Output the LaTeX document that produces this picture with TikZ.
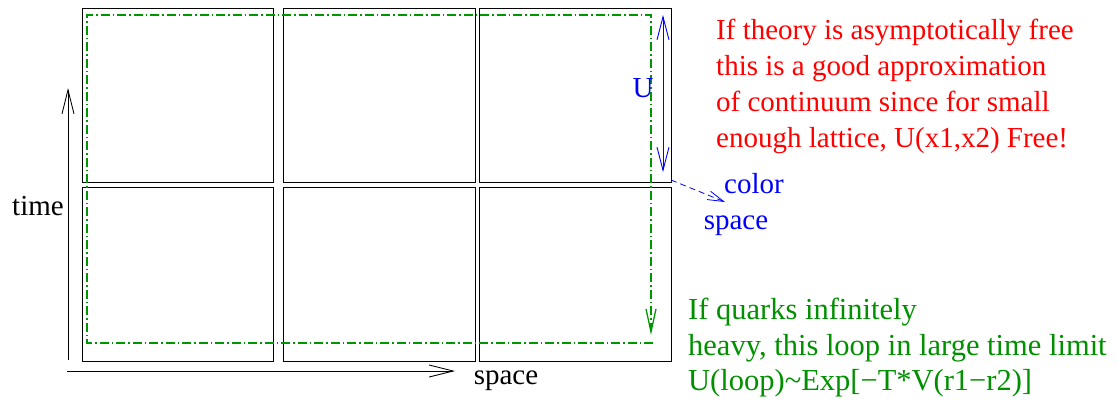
\documentclass[tikz,border=0pt]{standalone}
\usepackage{fontspec}
\setmainfont{Liberation Serif}
\usetikzlibrary{arrows.meta}
\definecolor{figred}{RGB}{255,0,0}
\definecolor{figblue}{RGB}{0,0,255}
\definecolor{figgreen}{RGB}{0,144,0}
\definecolor{loopgreen}{RGB}{0,150,0}
\begin{document}
\begin{tikzpicture}[x=1pt,y=-1pt,
  cell/.style={draw=black,line width=1pt,inner sep=0pt,minimum width=191pt,minimum height=174pt},
  vtip/.style={-{Straight Barb[length=24pt,width=12pt]}},
  axisline/.style={draw=black,line width=0.9pt,vtip},
  loopline/.style={draw=loopgreen,line width=1.3pt,dash pattern=on 9pt off 3pt on 1.5pt off 3pt,
     -{Straight Barb[length=23pt,width=10pt]}},
  uline/.style={draw=figblue,line width=0.9pt,{Straight Barb[length=23pt,width=12pt]}-{Straight Barb[length=23pt,width=12pt]}},
  colline/.style={draw=figblue,line width=0.8pt,dash pattern=on 6pt off 4pt,-{Straight Barb[length=16pt,width=9pt]}},
  txt/.style={inner sep=0pt,font=\fontsize{29}{35}\selectfont},
  redtxt/.style={txt,text=figred,anchor=base west},
  greentxt/.style={inner sep=0pt,font=\fontsize{30.5}{36}\selectfont,text=figgreen,anchor=base west},
  bluetxt/.style={txt,text=figblue},
]
\useasboundingbox (0,0) rectangle (1117,402);
% lattice cells
\node[cell] (c11) at (177.5,95.5) {};
\node[cell,minimum width=192pt] (c12) at (379,95.5) {};
\node[cell,minimum width=192pt] (c13) at (575,95.5) {};
\node[cell] (c21) at (177.5,274) {};
\node[cell,minimum width=192pt] (c22) at (379,274) {};
\node[cell,minimum width=192pt] (c23) at (575,274) {};
% axes
\coordinate (t0) at (68,360);
\coordinate (t1) at (68,88);
\coordinate (s0) at (67,371);
\coordinate (s1) at (455,371);
\draw[axisline] (t0) -- (t1);
\draw[axisline] (s0) -- (s1);
\node[txt,anchor=base] (timelbl) at (38,215) {time};
\node[txt,anchor=base] (spacelbl) at (506,384) {space};
% Wilson loop
\coordinate (g0) at (653,343);
\coordinate (g1) at (87,343);
\coordinate (g2) at (87,15);
\coordinate (g3) at (651,15);
\coordinate (g4) at (651,335);
\draw[loopline] (g0) -- (g1) -- (g2) -- (g3) -- (g4);
% link variable U
\coordinate (u0) at (663,15);
\coordinate (u1) at (663,172);
\draw[uline] (u0) -- (u1);
\node[bluetxt,anchor=base] (ulbl) at (643,97) {U};
% color space
\coordinate (cs0) at (671,180);
\coordinate (cs1) at (725,202);
\draw[colline] (cs0) -- (cs1);
\node[bluetxt,anchor=base] (collbl) at (754,193) {color};
\node[bluetxt,anchor=base] (splbl) at (736,229) {space};
% red text
\node[redtxt] (r1) at (716,39) {If theory is asymptotically free};
\node[redtxt] (r2) at (716,75) {this is a good approximation};
\node[redtxt] (r3) at (716,111) {of continuum since for small};
\node[redtxt] (r4) at (716,147) {enough lattice, U(x1,x2) Free!};
% green text
\node[greentxt] (q1) at (688,319) {If quarks infinitely};
\node[greentxt] (q2) at (688,355) {heavy, this loop in large time limit};
\node[greentxt] (q3) at (688,390) {U(loop)\textasciitilde Exp[−T*V(r1−r2)]};
\end{tikzpicture}
\end{document}
